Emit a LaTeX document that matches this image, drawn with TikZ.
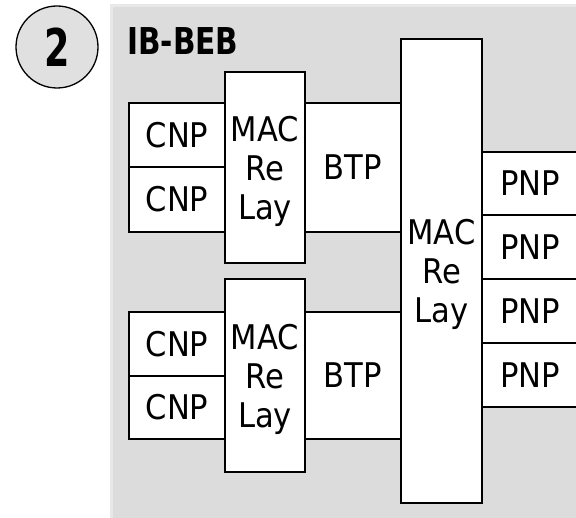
\documentclass[tikz,border=0pt]{standalone}
\usepackage{fontspec}
\setmainfont{DejaVu Sans}[FakeStretch=0.9]
\newfontfamily\boldnarrow{DejaVu Sans}[FakeStretch=0.8]
\definecolor{bgdark}{HTML}{DCDCDC}
\definecolor{bglight}{HTML}{E8E8E8}
\definecolor{circfill}{HTML}{E0E0E0}
\tikzset{
  blk/.style={draw=black, line width=1.3pt, fill=white, rectangle, inner sep=0pt,
    align=center, font=\fontsize{34}{39}\selectfont},
}
\begin{document}
\begin{tikzpicture}[x=1pt,y=-1pt]
\useasboundingbox (0,0) rectangle (576,518);
% grey panel
\fill[bglight] (110,4) rectangle (580,522);
\fill[bgdark] (113,7) rectangle (580,522);
% badge
\node[circle, draw=black, line width=1.3pt, fill=circfill, minimum size=82pt, inner sep=0pt] (badge) at (57,47) {};
\node (badgenum) at (57,47) {\scalebox{0.78}[1]{\fontsize{52}{52}\selectfont\bfseries 2}};
% title
\node[anchor=base west, inner sep=0pt] (title) at (127,55) {\fontsize{37}{37}\selectfont\boldnarrow\bfseries IB-BEB};
% upper group
\node[blk, minimum width=96pt, minimum height=64pt] (cnpa) at (177,135) {CNP};
\node[blk, minimum width=96pt, minimum height=65pt] (cnpb) at (177,199.5) {CNP};
\node[blk, minimum width=96pt, minimum height=129pt] (btpa) at (353,167.5) {BTP};
\node[blk, minimum width=80pt, minimum height=191pt] (maca) at (265,167.5) {MAC\\Re\\\smash{Lay}};
% lower group
\node[blk, minimum width=96pt, minimum height=64pt] (cnpc) at (177,344) {CNP};
\node[blk, minimum width=96pt, minimum height=63pt] (cnpd) at (177,407.5) {CNP};
\node[blk, minimum width=96pt, minimum height=127pt] (btpb) at (353,375.5) {BTP};
\node[blk, minimum width=80pt, minimum height=193pt] (macb) at (265,375.5) {MAC\\Re\\\smash{Lay}};
% PNPs
\node[blk, minimum width=96pt, minimum height=63pt] (pnpa) at (530,183.5) {PNP};
\node[blk, minimum width=96pt, minimum height=64pt] (pnpb) at (530,247) {PNP};
\node[blk, minimum width=96pt, minimum height=64pt] (pnpc) at (530,311) {PNP};
\node[blk, minimum width=96pt, minimum height=64pt] (pnpd) at (530,375) {PNP};
% big relay
\node[blk, minimum width=81pt, minimum height=464pt] (macbig) at (441.5,271) {MAC\\Re\\\smash{Lay}};
\end{tikzpicture}
\end{document}
